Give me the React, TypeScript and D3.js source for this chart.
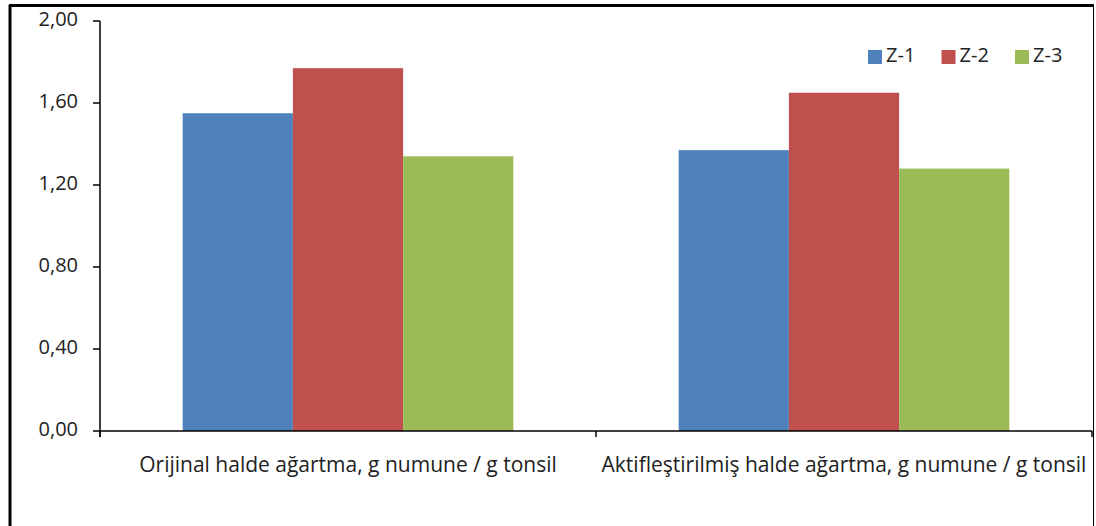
// Grouped bar chart with d3 scales.

import * as d3 from "d3";

const categories = [
  "Orijinal halde ağartma, g numune / g tonsil",
  "Aktifleştirilmiş halde ağartma, g numune / g tonsil",
];
const seriesNames = ["Z-1", "Z-2", "Z-3"];
const z1 = [1.55, 1.37];
const z2 = [1.77, 1.65];
const z3 = [1.34, 1.28];
const yTicks = [0, 0.4, 0.8, 1.2, 1.6, 2.0];
const colors = ["#4F81BD", "#C0504D", "#9BBB59"];

export default function App() {
  const width = 1096;
  const height = 526;
  const [marginTop, marginRight, marginBottom, marginLeft] = [21, 4, 95, 100];
  const font = "'Open Sans', 'Liberation Sans', sans-serif";
  const series = [z1, z2, z3];

  const scaleX = d3
    .scaleBand<string>()
    .domain(categories)
    .range([marginLeft, width - marginRight]);
  const scaleY = d3
    .scaleLinear()
    .domain([0, 2])
    .range([height - marginBottom, marginTop]);
  // bars fill two thirds of each band
  const inner = d3
    .scaleBand<string>()
    .domain(seriesNames)
    .range([0, scaleX.bandwidth() * (2 / 3)]);
  const groupOffset = scaleX.bandwidth() / 6;

  const y0 = scaleY(0);
  const fmt = (v: number) => v.toFixed(2).replace(".", ",");

  return (
    <svg
      width={width}
      height={height}
      style={{ display: "block", position: "absolute", left: 0, top: 0 }}
    >
      <rect x={0} y={0} width={width} height={height} fill="white" />
      {/* outer frame */}
      <line x1={10} x2={10} y1={5} y2={height} stroke="black" strokeWidth={3} />
      <line x1={9} x2={1094} y1={5.5} y2={5.5} stroke="black" strokeWidth={3} />
      <line x1={1093.5} x2={1093.5} y1={5} y2={height} stroke="black" strokeWidth={1} />

      {categories.map((c, ci) => (
        <g key={c}>
          {seriesNames.map((s, si) => (
            <rect
              key={s}
              x={(scaleX(c) ?? 0) + groupOffset + (inner(s) ?? 0)}
              y={scaleY(series[si][ci])}
              width={inner.bandwidth()}
              height={y0 - scaleY(series[si][ci])}
              fill={colors[si]}
            />
          ))}
        </g>
      ))}

      {/* y axis */}
      <line x1={marginLeft} x2={marginLeft} y1={marginTop} y2={y0 + 6} stroke="black" strokeWidth={1.5} />
      {yTicks.map((t) => (
        <g key={t}>
          <line x1={marginLeft - 7} x2={marginLeft} y1={scaleY(t)} y2={scaleY(t)} stroke="black" strokeWidth={1.5} />
          <text
            x={78}
            y={scaleY(t)}
            textAnchor="end"
            dominantBaseline="middle"
            fontFamily={font}
            fontSize={20}
            fill="#222"
          >
            {fmt(t)}
          </text>
        </g>
      ))}

      {/* x axis */}
      <line x1={marginLeft} x2={width - marginRight} y1={y0} y2={y0} stroke="black" strokeWidth={1.5} />
      {[...categories.map((c) => scaleX(c) ?? 0), width - marginRight].map((x, i) => (
        // biome-ignore lint/suspicious/noArrayIndexKey: fixed ticks
        <line key={i} x1={x} x2={x} y1={y0} y2={y0 + 6} stroke="black" strokeWidth={1.5} />
      ))}
      {categories.map((c) => (
        <text
          key={c}
          x={(scaleX(c) ?? 0) + scaleX.bandwidth() / 2}
          y={472}
          textAnchor="middle"
          fontFamily={font}
          fontSize={21}
          fill="#222"
        >
          {c}
        </text>
      ))}

      {/* legend */}
      {seriesNames.map((s, i) => {
        const lx = 868 + i * 73.5;
        return (
          <g key={s}>
            <rect x={lx} y={50} width={14} height={14} fill={colors[i]} />
            <text
              x={lx + 18}
              y={57}
              dominantBaseline="middle"
              fontFamily={font}
              fontSize={20}
              fill="#222"
            >
              {s}
            </text>
          </g>
        );
      })}
    </svg>
  );
}
